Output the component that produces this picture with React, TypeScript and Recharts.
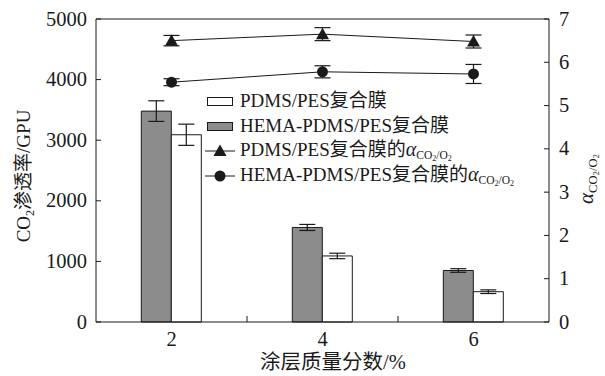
import { ComposedChart, Bar, Line, XAxis, YAxis, ErrorBar, ReferenceLine, Label } from 'recharts';

// coating content (wt%)
const categories = ['2', '4', '6'];

// CO2 permeance, GPU
const hemaPermeance = [3480, 1560, 850];
const hemaPermeanceErr = [170, 50, 30];
const pdmsPermeance = [3090, 1090, 500];
const pdmsPermeanceErr = [175, 45, 30];

// CO2/O2 selectivity
const pdmsSelectivity = [6.5, 6.65, 6.48];
const pdmsSelectivityErr = [0.12, 0.15, 0.15];
const hemaSelectivity = [5.54, 5.78, 5.73];
const hemaSelectivityErr = [0.08, 0.14, 0.22];

const leftTicks = [0, 1000, 2000, 3000, 4000, 5000];
const rightTicks = [0, 1, 2, 3, 4, 5, 6, 7];

const data = categories.map((c, i) => ({
  name: c,
  hema: hemaPermeance[i],
  hemaErr: hemaPermeanceErr[i],
  pdms: pdmsPermeance[i],
  pdmsErr: pdmsPermeanceErr[i],
  pdmsSel: pdmsSelectivity[i],
  pdmsSelErr: pdmsSelectivityErr[i],
  hemaSel: hemaSelectivity[i],
  hemaSelErr: hemaSelectivityErr[i],
}));

const FONT = '"Liberation Serif", "Noto Sans CJK SC", serif';
const INK = '#1a1a1a';
const GRAY = '#8c8c8c';
const W = 605;
const H = 376;
const LEFT_W = 96;
const RIGHT_W = 56;
const HALF_BAND = (W - LEFT_W - RIGHT_W) / categories.length / 2;
const TICK_FONT = 20.5;

const LeftTick = ({ x, y, payload }: any) => (
  <g>
    <line x1={x} x2={x + 5} y1={y} y2={y} stroke={INK} />
    <text x={x - 9} y={y + 6.5} textAnchor="end" fontSize={TICK_FONT} fontFamily={FONT} fill={INK}>
      {payload.value}
    </text>
  </g>
);

const RightTick = ({ x, y, payload }: any) => (
  <g>
    <line x1={x - 5} x2={x} y1={y} y2={y} stroke={INK} />
    <text x={x + 10} y={y + 6.5} textAnchor="start" fontSize={TICK_FONT} fontFamily={FONT} fill={INK}>
      {payload.value}
    </text>
  </g>
);

const BottomTick = ({ x, y, payload, index }: any) => (
  <g>
    {index < categories.length - 1 && (
      <line x1={x + HALF_BAND} x2={x + HALF_BAND} y1={y} y2={y - 6} stroke={INK} />
    )}
    <text x={x} y={y + 24} textAnchor="middle" fontSize={TICK_FONT} fontFamily={FONT} fill={INK}>
      {payload.value}
    </text>
  </g>
);

const Triangle = ({ cx, cy }: any) => (
  <path d={`M${cx},${cy - 6.5} L${cx + 6.5},${cy + 5} L${cx - 6.5},${cy + 5} Z`} fill={INK} />
);

const Dot = ({ cx, cy }: any) => <circle cx={cx} cy={cy} r={5.5} fill={INK} />;

const AlphaSub = ({ big }: { big: number }) => (
  <>
    <tspan fontStyle="italic" fontSize={big}>α</tspan>
    <tspan dy={4} fontSize={big * 0.6}>CO</tspan>
    <tspan dy={2} fontSize={big * 0.42}>2</tspan>
    <tspan dy={-2} fontSize={big * 0.6}>/O</tspan>
    <tspan dy={2} fontSize={big * 0.42}>2</tspan>
  </>
);

const lowered = (size: number, shift: number): React.CSSProperties => ({
  fontSize: size,
  position: 'relative',
  top: shift,
  lineHeight: 0,
});

const AlphaHtml = () => (
  <>
    <i style={{ fontSize: 20, lineHeight: 0 }}>α</i>
    <span style={lowered(11.5, 3)}>
      CO<span style={lowered(8, 2)}>2</span>/O<span style={lowered(8, 2)}>2</span>
    </span>
  </>
);

const LegendRow = ({ symbol, children }: any) => (
  <div style={{ display: 'flex', alignItems: 'center', height: 24.6 }}>
    <svg width={34} height={16} style={{ marginRight: 3 }}>
      {symbol}
    </svg>
    <span style={{ fontFamily: FONT, fontSize: 19, color: INK, whiteSpace: 'nowrap', lineHeight: '20px' }}>
      {children}
    </span>
  </div>
);

const ChartLegend = () => (
  <div style={{ position: 'absolute', left: 203, top: 89 }}>
    <LegendRow symbol={<rect x={4.5} y={4.5} width={25} height={8} fill="#fff" stroke={INK} />}>
      PDMS/PES复合膜
    </LegendRow>
    <LegendRow symbol={<rect x={4.5} y={4.5} width={25} height={8} fill={GRAY} stroke={INK} />}>
      HEMA-PDMS/PES复合膜
    </LegendRow>
    <LegendRow
      symbol={
        <>
          <line x1={2} x2={32} y1={9} y2={9} stroke={INK} />
          <Triangle cx={17} cy={9} />
        </>
      }
    >
      PDMS/PES复合膜的<AlphaHtml />
    </LegendRow>
    <LegendRow
      symbol={
        <>
          <line x1={2} x2={32} y1={9} y2={9} stroke={INK} />
          <Dot cx={17} cy={9} />
        </>
      }
    >
      HEMA-PDMS/PES复合膜的<AlphaHtml />
    </LegendRow>
  </div>
);

export default function App() {
  return (
    <div style={{ position: 'absolute', left: 0, top: 0, width: W, height: H, background: '#fff' }}>
      <ComposedChart
        width={W}
        height={H}
        data={data}
        margin={{ top: 19, right: 0, bottom: 0, left: 0 }}
        barCategoryGap="30%"
        barGap={0}
      >
        <XAxis
          dataKey="name"
          height={54}
          stroke={INK}
          tickLine={false}
          tickSize={0}
          tickMargin={0}
          tick={<BottomTick />}
        >
          <Label
            content={() => (
              <text x={333} y={369} textAnchor="middle" fontSize={20.5} fontFamily={FONT} fill={INK}>
                涂层质量分数/%
              </text>
            )}
          />
        </XAxis>
        <YAxis
          yAxisId="left"
          width={LEFT_W}
          domain={[0, 5000]}
          ticks={leftTicks}
          stroke={INK}
          tickLine={false}
          tickSize={0}
          tickMargin={0}
          tick={<LeftTick />}
        >
          <Label
            content={() => (
              <text
                transform="translate(30,176) rotate(-90)"
                textAnchor="middle"
                fontSize={19}
                fontFamily={FONT}
                fill={INK}
              >
                CO
                <tspan dy={4} fontSize={12}>2</tspan>
                <tspan dy={-4}>渗透率/GPU</tspan>
              </text>
            )}
          />
        </YAxis>
        <YAxis
          yAxisId="right"
          orientation="right"
          width={RIGHT_W}
          domain={[0, 7]}
          ticks={rightTicks}
          stroke={INK}
          tickLine={false}
          tickSize={0}
          tickMargin={0}
          tick={<RightTick />}
        >
          <Label
            content={() => (
              <text transform="translate(593,204) rotate(-90)" fontFamily={FONT} fill={INK}>
                <AlphaSub big={21} />
              </text>
            )}
          />
        </YAxis>
        <ReferenceLine yAxisId="left" y={5000} stroke={INK} />
        <Bar yAxisId="left" dataKey="hema" fill={GRAY} stroke={INK} strokeWidth={1} isAnimationActive={false}>
          <ErrorBar dataKey="hemaErr" width={8} stroke={INK} strokeWidth={1.2} direction="y" />
        </Bar>
        <Bar yAxisId="left" dataKey="pdms" fill="#fff" stroke={INK} strokeWidth={1} isAnimationActive={false}>
          <ErrorBar dataKey="pdmsErr" width={8} stroke={INK} strokeWidth={1.2} direction="y" />
        </Bar>
        <Line
          yAxisId="right"
          dataKey="pdmsSel"
          stroke={INK}
          strokeWidth={1}
          dot={<Triangle />}
          activeDot={false}
          isAnimationActive={false}
        >
          <ErrorBar dataKey="pdmsSelErr" width={8} stroke={INK} strokeWidth={1.2} direction="y" />
        </Line>
        <Line
          yAxisId="right"
          dataKey="hemaSel"
          stroke={INK}
          strokeWidth={1}
          dot={<Dot />}
          activeDot={false}
          isAnimationActive={false}
        >
          <ErrorBar dataKey="hemaSelErr" width={8} stroke={INK} strokeWidth={1.2} direction="y" />
        </Line>
      </ComposedChart>
      <ChartLegend />
    </div>
  );
}
